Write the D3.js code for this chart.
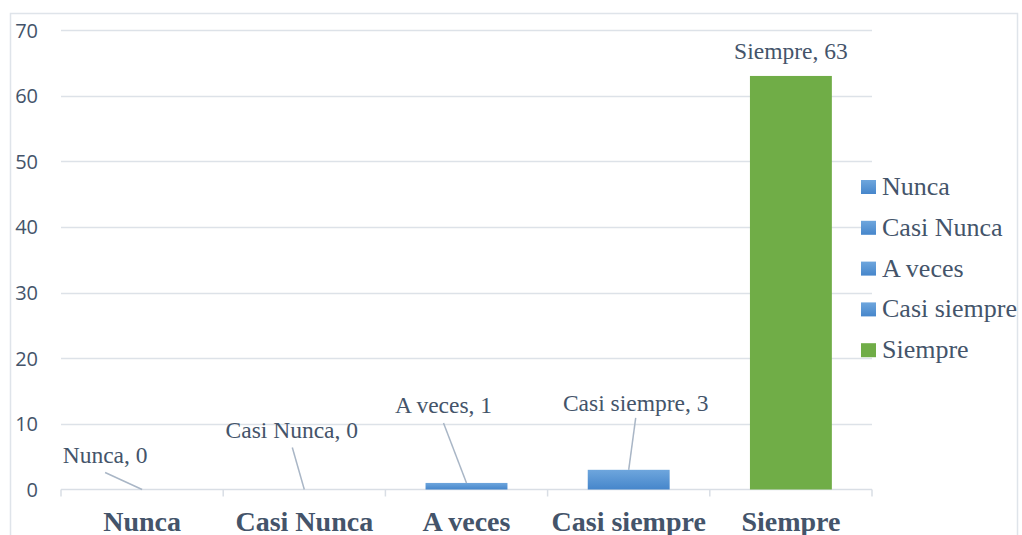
<!DOCTYPE html>
<html><head><meta charset="utf-8">
<script src="https://cdn.jsdelivr.net/npm/d3@7"></script>
<style>body{margin:0;background:#fff}svg{display:block}</style>
</head><body><svg id="c" width="1022" height="535"></svg>
<script>
const categories = ["Nunca", "Casi Nunca", "A veces", "Casi siempre", "Siempre"];
const values = [0, 0, 1, 3, 63];
const yTicks = [0, 10, 20, 30, 40, 50, 60, 70];
const seriesColors = ["blue", "blue", "blue", "blue", "green"];

// label layout (pixel offsets relative to bar top-centre): text position and leader start
const labelLayout = [
  {tx:-37,   ty:-26.5, lx:-37, ly:-17},
  {tx:-12.5, ty:-51.5, lx:-12, ly:-42},
  {tx:-23,   ty:-70,   lx:-23, ly:-60},
  {tx:7,     ty:-59,   lx:7,   ly:-52},
  {tx:0,     ty:-16.6, lx:null, ly:null}
];

const svg = d3.select("#c");
const textCol = "#44546a";
const serif = "'Liberation Serif', 'Times New Roman', serif";
const plot = {l:61, r:872, t:30, b:489.5};

// chart border
svg.append("rect").attr("x",10.5).attr("y",13.5).attr("width",1007).attr("height",530)
  .attr("fill","none").attr("stroke","#dfe4ea").attr("stroke-width",1.5);

const defs = svg.append("defs");
const gb = defs.append("linearGradient").attr("id","gblue").attr("x1",0).attr("x2",0).attr("y1",0).attr("y2",1);
gb.append("stop").attr("offset","0%").attr("stop-color","#6ea6dd");
gb.append("stop").attr("offset","100%").attr("stop-color","#4686cb");
const fillFor = c => c === "green" ? "#70ad47" : "url(#gblue)";

const x = d3.scaleBand().domain(categories).range([plot.l, plot.r]).padding(0);
const y = d3.scaleLinear().domain([0, 70]).range([plot.b, plot.t]);
const barW = x.bandwidth() * 0.505;

// gridlines
svg.append("g").selectAll("line").data(yTicks.filter(d=>d>0)).join("line")
  .attr("x1", plot.l).attr("x2", plot.r)
  .attr("y1", d=>Math.round(y(d))+0.5).attr("y2", d=>Math.round(y(d))+0.5)
  .attr("stroke","#dde2e8").attr("stroke-width",1.5);

// y axis labels
const yAxis = d3.axisLeft(y).tickValues(yTicks).tickSize(0).tickPadding(0);
const ya = svg.append("g").attr("transform",`translate(38,0)`).call(yAxis);
ya.select(".domain").remove();
ya.selectAll("text").attr("fill",textCol).attr("font-family","'Open Sans', sans-serif")
  .attr("font-size",20).attr("dy","0.35em");

// x axis
const xAxis = d3.axisBottom(x).tickSize(0).tickPadding(0);
const xa = svg.append("g").attr("transform",`translate(0,${plot.b})`).call(xAxis);
xa.select(".domain").remove();
xa.selectAll("text").attr("fill",textCol).attr("font-family",serif)
  .attr("font-weight","bold").attr("font-size",28).attr("y",41).attr("dy",0);
// axis line and category ticks
svg.append("line").attr("x1",plot.l).attr("x2",plot.r).attr("y1",plot.b).attr("y2",plot.b)
  .attr("stroke","#d9dee5").attr("stroke-width",1.5);
const bounds = categories.map(c=>x(c)).concat([plot.r]);
svg.append("g").selectAll("line").data(bounds).join("line")
  .attr("x1",d=>d).attr("x2",d=>d).attr("y1",plot.b).attr("y2",plot.b+7)
  .attr("stroke","#d9dee5").attr("stroke-width",1.5);

// bars
svg.append("g").selectAll("rect").data(values).join("rect")
  .attr("x",(d,i)=>x(categories[i]) + x.bandwidth()/2 - barW/2)
  .attr("width",barW)
  .attr("y",d=>y(d)).attr("height",d=>y(0)-y(d))
  .attr("fill",(d,i)=>fillFor(seriesColors[i]));

// data labels + leaders
const lg = svg.append("g");
values.forEach((v,i)=>{
  const cx = x(categories[i]) + x.bandwidth()/2, top = y(v);
  const L = labelLayout[i];
  if (L.lx !== null) {
    lg.append("line").attr("x1",cx+L.lx).attr("y1",top+L.ly).attr("x2",cx).attr("y2",top)
      .attr("stroke","#a9b6c6").attr("stroke-width",1.5);
  }
  lg.append("text").attr("x",cx+L.tx).attr("y",top+L.ty).attr("text-anchor","middle")
    .attr("fill",textCol).attr("font-family",serif)
    .attr("font-size",23.5).text(`${categories[i]}, ${v}`);
});

// legend
const leg = svg.append("g").attr("transform","translate(861,180)");
categories.forEach((c,i)=>{
  const g = leg.append("g").attr("transform",`translate(0,${i*40.8})`);
  g.append("rect").attr("x",0).attr("y",0).attr("width",15).attr("height",14).attr("fill",fillFor(seriesColors[i]));
  g.append("text").attr("x",21).attr("y",15).attr("fill",textCol)
    .attr("font-family",serif).attr("font-size",26).text(c);
});
</script></body></html>
